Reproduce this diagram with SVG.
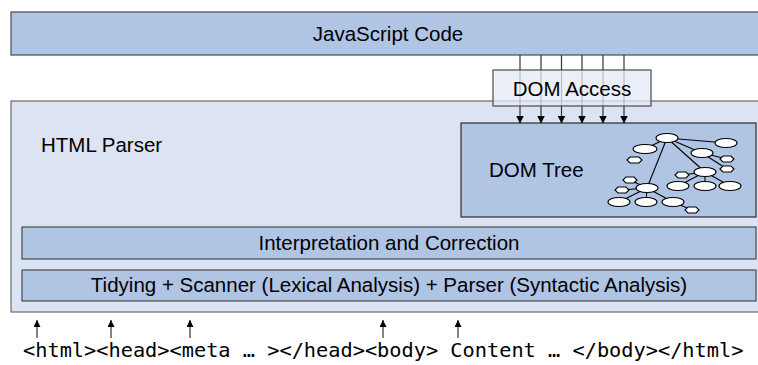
<svg xmlns="http://www.w3.org/2000/svg" width="758" height="365" viewBox="0 0 758 365">
<defs>
<marker id="ah" markerWidth="8" markerHeight="8" refX="7.5" refY="4" orient="auto" markerUnits="userSpaceOnUse"><path d="M0,0 L8,4 L0,8 Z" fill="#000"/></marker>
<marker id="ah2" markerWidth="8" markerHeight="8" refX="7" refY="3.5" orient="auto" markerUnits="userSpaceOnUse"><path d="M0,0 L7,3.5 L0,7 Z" fill="#000"/></marker>
</defs>
<style>
.box{fill:#b0c4e4;stroke:#4a4a4a;stroke-width:1.2}
.outer{fill:#dce3f2;stroke:#6a6a6a;stroke-width:1.2}
.t{font-family:"Liberation Sans",Arial,sans-serif;font-size:20.5px;fill:#000}
.m{font-family:"DejaVu Sans Mono",monospace;font-size:20.3px;fill:#000}
.ln{stroke:#333;stroke-width:1.2;fill:none}
.n{fill:#fff;stroke:#000;stroke-width:1.1}
.e{stroke:#000;stroke-width:1.1}
</style>
<g id="js">
<rect class="box" x="11" y="12" width="760" height="43"/>
<text class="t" x="388" y="41" text-anchor="middle">JavaScript Code</text>
</g>
<g id="parser">
<rect class="outer" x="11" y="101" width="760" height="211"/>
<text class="t" x="41" y="152">HTML Parser</text>
</g>
<g id="domtree">
<rect class="box" x="461" y="123" width="295" height="94" style="stroke:#2a2a2a"/>
<text class="t" x="489" y="177">DOM Tree</text>
<g id="tree">
<line class="e" x1="667" y1="138" x2="726" y2="143"/>
<line class="e" x1="667" y1="138" x2="645" y2="149"/>
<line class="e" x1="667" y1="138" x2="702" y2="153"/>
<line class="e" x1="667" y1="138" x2="705" y2="172"/>
<line class="e" x1="667" y1="138" x2="647" y2="188"/>
<line class="e" x1="702" y1="153" x2="727" y2="159"/>
<line class="e" x1="702" y1="153" x2="727" y2="169"/>
<line class="e" x1="705" y1="172" x2="682" y2="175"/>
<line class="e" x1="705" y1="172" x2="678" y2="186"/>
<line class="e" x1="705" y1="172" x2="705" y2="186"/>
<line class="e" x1="705" y1="172" x2="730" y2="186"/>
<line class="e" x1="647" y1="188" x2="630" y2="180"/>
<line class="e" x1="647" y1="188" x2="622" y2="190"/>
<line class="e" x1="647" y1="188" x2="619" y2="202"/>
<line class="e" x1="647" y1="188" x2="646" y2="202"/>
<line class="e" x1="647" y1="188" x2="673" y2="202"/>
<line class="e" x1="673" y1="202" x2="692" y2="210"/>
<ellipse class="n" cx="667" cy="138" rx="11" ry="4.5"/>
<ellipse class="n" cx="726" cy="143" rx="11" ry="4.5"/>
<ellipse class="n" cx="645" cy="149" rx="12" ry="4.5"/>
<ellipse class="n" cx="702" cy="153" rx="11" ry="4.5"/>
<ellipse class="n" cx="705" cy="172" rx="11" ry="4.5"/>
<ellipse class="n" cx="678" cy="186" rx="11" ry="4.5"/>
<ellipse class="n" cx="705" cy="186" rx="11" ry="4.5"/>
<ellipse class="n" cx="730" cy="186" rx="11" ry="4.5"/>
<ellipse class="n" cx="647" cy="188" rx="11" ry="4.5"/>
<ellipse class="n" cx="619" cy="202" rx="11" ry="4.5"/>
<ellipse class="n" cx="646" cy="202" rx="11" ry="4.5"/>
<ellipse class="n" cx="673" cy="202" rx="11" ry="4.5"/>
<polygon class="n" points="627,160 630,157 639,157 642,160 639,163 630,163"/>
<polygon class="n" points="720,159 723,156 731,156 734,159 731,162 723,162"/>
<polygon class="n" points="720,169 723,166 731,166 734,169 731,172 723,172"/>
<polygon class="n" points="675,175 678,172 686,172 689,175 686,178 678,178"/>
<polygon class="n" points="623,180 626,177 634,177 637,180 634,183 626,183"/>
<polygon class="n" points="615,190 618,187 626,187 629,190 626,193 618,193"/>
<polygon class="n" points="685,210 688,207 696,207 699,210 696,213 688,213"/>
</g>
</g>
<g id="connectors">
<line class="ln" x1="520" y1="55" x2="520" y2="123" marker-end="url(#ah)"/>
<line class="ln" x1="541" y1="55" x2="541" y2="123" marker-end="url(#ah)"/>
<line class="ln" x1="561.5" y1="55" x2="561.5" y2="123" marker-end="url(#ah)"/>
<line class="ln" x1="582" y1="55" x2="582" y2="123" marker-end="url(#ah)"/>
<line class="ln" x1="603" y1="55" x2="603" y2="123" marker-end="url(#ah)"/>
<line class="ln" x1="624" y1="55" x2="624" y2="123" marker-end="url(#ah)"/>
<line class="ln" x1="37" y1="338" x2="37" y2="320" marker-end="url(#ah2)"/>
<line class="ln" x1="111" y1="338" x2="111" y2="320" marker-end="url(#ah2)"/>
<line class="ln" x1="190" y1="338" x2="190" y2="320" marker-end="url(#ah2)"/>
<line class="ln" x1="383" y1="338" x2="383" y2="320" marker-end="url(#ah2)"/>
<line class="ln" x1="458" y1="338" x2="458" y2="320" marker-end="url(#ah2)"/>
</g>
<g id="domaccess">
<rect x="493" y="70" width="158" height="36" fill="#e4eaf5" fill-opacity="0.75" stroke="#4a4a4a" stroke-width="1.2"/>
<text class="t" x="572" y="96" text-anchor="middle">DOM Access</text>
</g>
<g id="interp">
<rect class="box" x="22" y="227" width="734" height="32"/>
<text class="t" x="389" y="250" text-anchor="middle">Interpretation and Correction</text>
</g>
<g id="tidy">
<rect class="box" x="22" y="270" width="734" height="31"/>
<text class="t" x="389" y="292" text-anchor="middle">Tidying + Scanner (Lexical Analysis) + Parser (Syntactic Analysis)</text>
</g>
<g id="source">
<text class="m" x="23" y="357">&lt;html&gt;&lt;head&gt;&lt;meta … &gt;&lt;/head&gt;&lt;body&gt; Content … &lt;/body&gt;&lt;/html&gt;</text>
</g>
</svg>
